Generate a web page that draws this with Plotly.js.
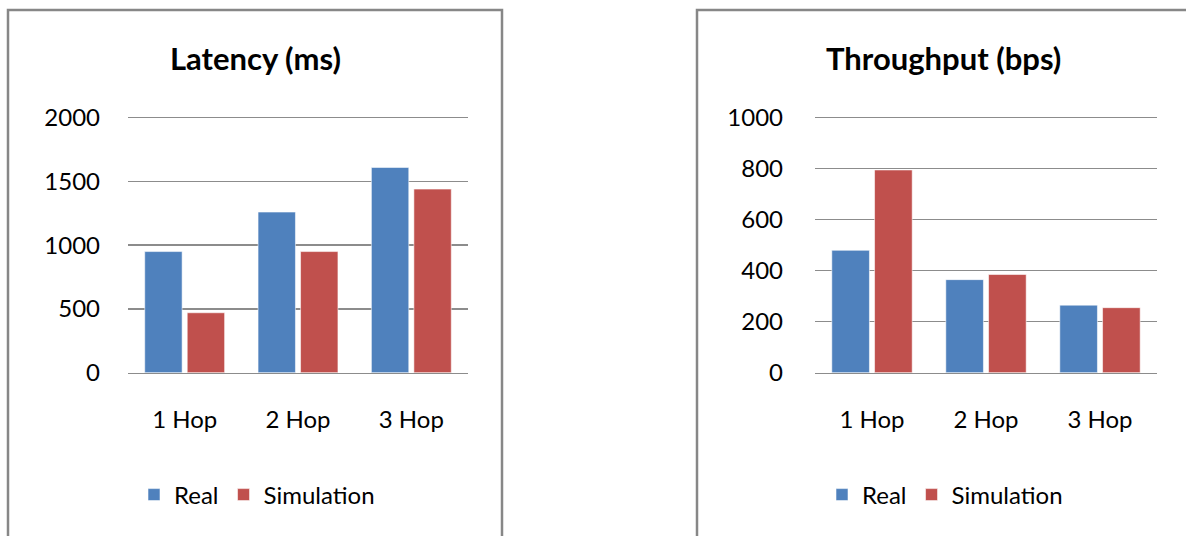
<!DOCTYPE html>
<html>
<head>
<meta charset="utf-8">
<script src="https://cdn.plot.ly/plotly-3.0.1.min.js"></script>
<style>html,body{margin:0;padding:0;background:#fff;}#chart{width:1186px;height:536px;}</style>
</head>
<body>
<div id="chart"></div>
<script>
// Data
const categories = ["1 Hop", "2 Hop", "3 Hop"];
const latencyReal = [950, 1260, 1610];
const latencySim = [470, 950, 1440];
const throughputReal = [480, 365, 265];
const throughputSim = [795, 385, 255];
const seriesNames = ["Real", "Simulation"];
const latencyTicks = [0, 500, 1000, 1500, 2000];
const throughputTicks = [0, 200, 400, 600, 800, 1000];

const W = 1186, H = 536;
const px = v => v / W;
const py = v => 1 - v / H;

const blue = "#4F81BD", red = "#C0504D";
const FONT = "Lato, 'Open Sans', sans-serif";
const grid = "#8c8c8c";

function bar(x, y, name, color, xa, ya, leg) {
  return {
    type: "bar", x: x, y: y, name: name, xaxis: xa, yaxis: ya, legend: leg,
    marker: {color: color, line: {color: "rgba(255,255,255,0.55)", width: 1}},
    hoverinfo: "x+y+name"
  };
}

const data = [
  bar(categories, latencyReal, seriesNames[0], blue, "x", "y", "legend"),
  bar(categories, latencySim, seriesNames[1], red, "x", "y", "legend"),
  bar(categories, throughputReal, seriesNames[0], blue, "x2", "y2", "legend2"),
  bar(categories, throughputSim, seriesNames[1], red, "x2", "y2", "legend2")
];

// plot area: value 0 at y=372.7px, top tick at y=117.7px; range extended by 1.5% so top gridline is drawn
const ext = 1.015;
const yBottom = py(372.7), yTop = py(372.7 - 255 * ext);

function xaxis(domain, anchor) {
  return {
    domain: domain, anchor: anchor, type: "category",
    showgrid: false, zeroline: false, showline: true, linecolor: grid, linewidth: 1.5,
    ticks: "", ticklabelstandoff: 25,
    tickfont: {family: FONT, size: 24, color: "#000"}, fixedrange: true
  };
}
function yaxis(maxTick, ticks, anchor, standoff) {
  return {
    domain: [yBottom, yTop], anchor: anchor, range: [0, maxTick * ext],
    tickmode: "array", tickvals: ticks, ticktext: ticks.map(String),
    showgrid: true, gridcolor: grid, gridwidth: 1.5, zeroline: false, showline: false,
    ticks: "", ticklabelstandoff: standoff,
    tickfont: {family: FONT, size: 24, color: "#000"}, fixedrange: true
  };
}

const legendCommon = {
  orientation: "h", xanchor: "left", yanchor: "middle",
  font: {family: FONT, size: 24, color: "#000"},
  bgcolor: "rgba(0,0,0,0)", itemwidth: 30, traceorder: "normal",
  itemclick: false, itemdoubleclick: false
};

const layout = {
  width: W, height: H,
  margin: {l: 0, r: 0, t: 0, b: 0},
  paper_bgcolor: "#fff", plot_bgcolor: "#fff",
  showlegend: true,
  barmode: "group", bargap: 0.25, bargroupgap: 0.12,
  xaxis: xaxis([px(128), px(468)], "y"),
  yaxis: yaxis(latencyTicks[latencyTicks.length - 1], latencyTicks, "x", 27),
  xaxis2: xaxis([px(815), px(1157)], "y2"),
  yaxis2: yaxis(throughputTicks[throughputTicks.length - 1], throughputTicks, "x2", 31),
  legend: Object.assign({}, legendCommon, {x: px(134), y: py(495)}),
  legend2: Object.assign({}, legendCommon, {x: px(822), y: py(495)}),
  annotations: [
    {xref: "paper", yref: "paper", x: px(255), y: py(58), text: "<b>Latency (ms)</b>", showarrow: false,
     xanchor: "center", yanchor: "middle", font: {family: FONT, size: 31, color: "#000"}},
    {xref: "paper", yref: "paper", x: px(943), y: py(58), text: "<b>Throughput (bps)</b>", showarrow: false,
     xanchor: "center", yanchor: "middle", font: {family: FONT, size: 31, color: "#000"}}
  ],
  shapes: [
    {type: "rect", xref: "paper", yref: "paper", x0: px(8), x1: px(502), y0: -0.1, y1: py(10),
     line: {color: "#878787", width: 2.5}, fillcolor: "rgba(0,0,0,0)", layer: "below"},
    {type: "rect", xref: "paper", yref: "paper", x0: px(697), x1: 1.1, y0: -0.1, y1: py(10),
     line: {color: "#878787", width: 2.5}, fillcolor: "rgba(0,0,0,0)", layer: "below"}
  ]
};

Plotly.newPlot("chart", data, layout, {staticPlot: true, displayModeBar: false});
</script>
</body>
</html>
